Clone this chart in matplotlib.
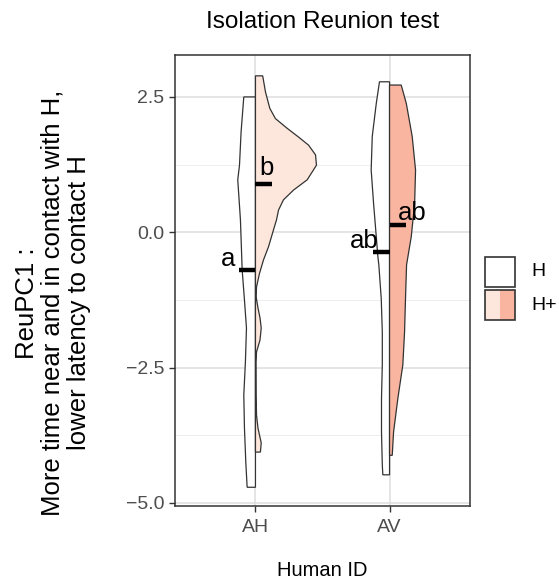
import matplotlib
matplotlib.use("Agg")
import matplotlib.pyplot as plt
from matplotlib.patches import Rectangle
import numpy as np

plt.rcParams['font.family'] = ['Liberation Sans', 'DejaVu Sans']

# ---------------- data ----------------
categories = ["AH", "AV"]
groups = ["H", "H+"]
title = "Isolation Reunion test"
xlabel = "Human ID"
ylabel = "ReuPC1 :\nMore time near and in contact with H,\nlower latency to contact H"
yticks = [2.5, 0.0, -2.5, -5.0]
ytick_labels = ["2.5", "0.0", "\u22122.5", "\u22125.0"]

# density half-widths (x units) read at y positions
ah_h_y = [2.50, 1.86, 1.24, 0.97, 0.23, -0.70, -1.25, -1.77, -2.40, -3.01, -3.62, -4.25, -4.71]
ah_h_w = [0.087, 0.107, 0.119, 0.132, 0.112, 0.099, 0.082, 0.067, 0.075, 0.087, 0.082, 0.072, 0.062]

ah_hp_y = [2.89, 2.59, 2.29, 2.10, 1.92, 1.76, 1.61, 1.43, 1.24, 0.97, 0.78, 0.60, 0.41, 0.23, 0.04,
           -0.27, -0.51, -0.76, -1.01, -1.19, -1.40, -1.58, -1.77, -1.99, -2.21, -2.40, -3.01,
           -3.38, -3.62, -3.89, -4.06]
ah_hp_w = [0.054, 0.075, 0.107, 0.149, 0.237, 0.321, 0.396, 0.448, 0.455, 0.386, 0.284, 0.209, 0.172,
           0.157, 0.134, 0.097, 0.060, 0.030, 0.008, 0.005, 0.019, 0.034, 0.043, 0.034, 0.008, 0.004,
           0.005, 0.008, 0.019, 0.043, 0.037]

av_h_y = [2.78, 2.38, 1.77, 1.15, 0.53, -0.08, -0.45, -0.60, -1.22, -1.84, -2.45, -3.07, -3.69, -4.30, -4.48]
av_h_w = [0.075, 0.099, 0.129, 0.137, 0.119, 0.099, 0.087, 0.080, 0.062, 0.054, 0.054, 0.060, 0.060, 0.054, 0.050]

av_hp_y = [2.72, 2.38, 1.77, 1.15, 0.53, -0.08, -0.60, -1.22, -1.84, -2.45, -3.07, -3.69, -4.12]
av_hp_w = [0.087, 0.125, 0.169, 0.194, 0.187, 0.162, 0.127, 0.119, 0.112, 0.099, 0.062, 0.030, 0.020]

means = {("AH", "H"): -0.69, ("AH", "H+"): 0.90, ("AV", "H"): -0.36, ("AV", "H+"): 0.135}
letters = {("AH", "H"): "a", ("AH", "H+"): "b", ("AV", "H"): "ab", ("AV", "H+"): "ab"}

profiles = {("AH", "H"): (ah_h_y, ah_h_w), ("AH", "H+"): (ah_hp_y, ah_hp_w),
            ("AV", "H"): (av_h_y, av_h_w), ("AV", "H+"): (av_hp_y, av_hp_w)}

fills = {("AH", "H"): "white", ("AH", "H+"): "#FDE6DB",
         ("AV", "H"): "white", ("AV", "H+"): "#FAB5A1"}

# label placement (style): x offset from centre, y offset above mean
label_dx = {("AH", "H"): 0.15, ("AH", "H+"): 0.03, ("AV", "H"): 0.08, ("AV", "H+"): 0.06}
label_dy = {("AH", "H"): 0.06, ("AH", "H+"): 0.15, ("AV", "H"): 0.075, ("AV", "H+"): 0.09}

# ---------------- figure ----------------
fig = plt.figure(figsize=(5.59, 5.85), dpi=100)
ax = fig.add_axes([175/559, 1-506/585, (470-175)/559, (506-55)/585])

ax.set_xlim(0.4, 2.6)
ax.set_ylim(-5.056, 3.275)

# grid
for y in [-3.75, -1.25, 1.25]:
    ax.axhline(y, color="#EBEBEB", lw=0.6, zorder=0)
for y in yticks:
    ax.axhline(y, color="#E0E0E0", lw=1.2, zorder=0)
for i in range(len(categories)):
    ax.axvline(i+1, color="#E0E0E0", lw=1.2, zorder=0)

edge = "#333333"
for i, cat in enumerate(categories):
    c = i + 1
    for g in groups:
        ys, ws = profiles[(cat, g)]
        ys = np.array(ys); ws = np.array(ws)
        sgn = -1 if g == "H" else 1
        xs = np.concatenate([[c], c + sgn*ws, [c]])
        yy = np.concatenate([[ys[0]], ys, [ys[-1]]])
        ax.fill(xs, yy, facecolor=fills[(cat, g)], edgecolor=edge, lw=0.9, zorder=2)
        m = means[(cat, g)]
        ax.plot([c, c + sgn*0.125], [m, m], color="black", lw=3.2, solid_capstyle="butt", zorder=3)
        ax.text(c + sgn*label_dx[(cat, g)], m + label_dy[(cat, g)], letters[(cat, g)],
                ha="right" if g == "H" else "left", va="baseline",
                fontsize=18.5, color="black", zorder=4)

ax.set_xticks([1, 2])
ax.set_xticklabels(categories)
ax.set_yticks(yticks)
ax.set_yticklabels(ytick_labels)
ax.tick_params(axis="both", colors="#333333", labelcolor="#4D4D4D", labelsize=14, length=4, width=1)
ax.tick_params(axis="x", pad=5)
for s in ax.spines.values():
    s.set_color("#333333")
    s.set_linewidth(1.1)

fig.text(322.5/559, 1 - 22/585, title, fontsize=17.5, ha="center", va="center")
fig.text(322.5/559, 1 - 570/585, xlabel, fontsize=14.5, ha="center", va="center")
fig.text(53/559, 1 - 303/585, ylabel, fontsize=18.5, ha="center", va="center",
         rotation=90, multialignment="center", linespacing=1.12)

# legend
lx0, lw_ = 485/559, 30/559
kh = 30/585
ky1 = 1 - 287/585
ky2 = 1 - 320/585
fig.patches.append(Rectangle((lx0, ky1), lw_, kh, transform=fig.transFigure,
                             facecolor="white", edgecolor=edge, lw=1.2))
fig.patches.append(Rectangle((lx0, ky2), lw_/2, kh, transform=fig.transFigure,
                             facecolor=fills[("AH", "H+")], edgecolor="none"))
fig.patches.append(Rectangle((lx0 + lw_/2, ky2), lw_/2, kh, transform=fig.transFigure,
                             facecolor=fills[("AV", "H+")], edgecolor="none"))
fig.patches.append(Rectangle((lx0, ky2), lw_, kh, transform=fig.transFigure,
                             facecolor="none", edgecolor=edge, lw=1.2))
fig.text(531/559, 1 - 272/585, "H", fontsize=14, va="center", ha="left")
fig.text(531/559, 1 - 306/585, "H+", fontsize=14, va="center", ha="left")

fig.savefig("out.png", dpi=100)
